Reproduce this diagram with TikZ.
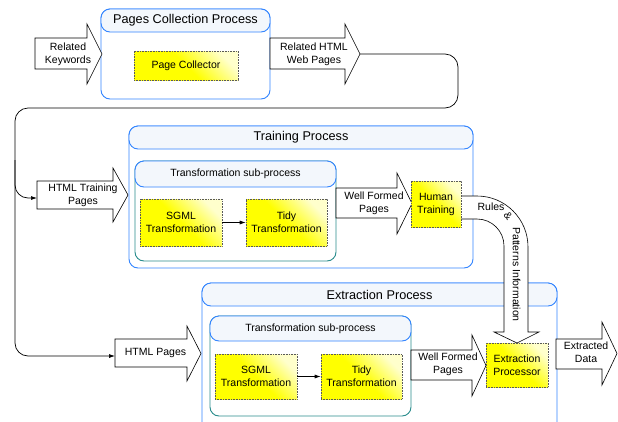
\documentclass[tikz,border=0pt]{standalone}
\usepackage{fontspec}
\setmainfont{Liberation Sans}
\usetikzlibrary{arrows.meta}
\definecolor{pblue}{RGB}{51,133,255}
\definecolor{pteal}{RGB}{40,140,140}
\definecolor{hdrfill}{RGB}{243,247,252}
\newcommand\lblfont{\fontsize{10.5}{13}\selectfont}
\newcommand\ttlfont{\fontsize{12.7}{15}\selectfont}
\tikzset{
  procbox/.style={draw=pblue, line width=0.9pt, rounded corners=9pt, fill=white},
  hdrbox/.style={draw=pblue, line width=0.9pt, rounded corners=9pt, fill=hdrfill},
  subbox/.style={draw=pteal, line width=0.9pt, rounded corners=9pt, fill=white},
  ybox/.style={draw=gray!70!black, densely dotted, line width=0.6pt, shading=axis,
    top color=yellow!20!white, bottom color=yellow, middle color=yellow, shading angle=-45,
    align=center, font=\lblfont, inner sep=0pt},
  blockarr/.style={draw=black, fill=white, line width=0.6pt, line join=miter},
  lbl/.style={font=\lblfont, align=center, inner sep=0pt},
  ttl/.style={font=\ttlfont, inner sep=0pt},
  conn/.style={draw=black, line width=0.7pt, rounded corners=13pt, -{Latex[length=6pt,width=4pt]}},
}
\begin{document}
\begin{tikzpicture}[x=1pt,y=1pt,yscale=-1]
\useasboundingbox (0,0) rectangle (618,421);
\clip (0,0) rectangle (618,421);

% ---------- Pages Collection Process ----------
\draw[procbox] (101,9) rectangle (270,99);
\draw[hdrbox] (101,9) rectangle (270,32);
\node[ttl] (pcp) at (185.5,20.5) {Pages Collection Process};
\node[ybox, minimum width=104pt, minimum height=29pt] (pc) at (186,65.5) {Page Collector};

% Related Keywords arrow
\draw[blockarr] (35,38) -- (87,38) -- (87,24) -- (102,54) -- (87,84) -- (87,69) -- (35,69) -- cycle;
\node[lbl] (rk) at (68,54) {Related\\Keywords};
% Related HTML Web Pages arrow
\draw[blockarr] (270,38) -- (345,38) -- (345,24) -- (360,54) -- (345,84) -- (345,69) -- (270,69) -- cycle;
\node[lbl] (rh) at (314,54) {Related HTML\\Web Pages};
\coordinate (rhtip) at (360,54);

% ---------- Training Process ----------
\draw[procbox] (129,126) rectangle (473,268);
\draw[hdrbox] (129,126) rectangle (473,149);
\node[ttl] (tp) at (301,137.5) {Training Process};
\draw[subbox] (135,161) rectangle (336,261);
\draw[hdrbox] (135,161) rectangle (336,187);
\node[lbl] (tsp1) at (235.5,174) {Transformation sub-process};
\node[ybox, minimum width=82pt, minimum height=47pt] (sg1) at (181,222.5) {SGML\\Transformation};
\node[ybox, minimum width=81pt, minimum height=47pt] (td1) at (286.5,222.5) {Tidy\\Transformation};
\draw[conn] (sg1.east) -- (td1.west);

% HTML Training Pages arrow
\draw[blockarr] (37,181) -- (113,181) -- (113,168) -- (128,195) -- (113,222) -- (113,209) -- (37,209) -- cycle;
\node[lbl] (htp) at (83,195) {HTML Training\\Pages};
\coordinate (htptail) at (37,198);

% Well Formed Pages (training)
\draw[blockarr] (336,188) -- (397,188) -- (397,173) -- (412,203.5) -- (397,234) -- (397,218) -- (336,218) -- cycle;
\node[lbl] (wf1) at (374,203) {Well Formed\\Pages};

% ---------- Extraction Process ----------
\draw[procbox] (202,283) rectangle (557,440);
\draw[hdrbox] (202,283) rectangle (557,306);
\node[ttl] (ep0) at (379.5,294.5) {Extraction Process};
\draw[subbox] (210,316) rectangle (411,416);
\draw[hdrbox] (210,316) rectangle (411,341);
\node[lbl] (tsp2) at (310.5,328.5) {Transformation sub-process};
\node[ybox, minimum width=82pt, minimum height=45pt] (sg2) at (256,376.5) {SGML\\Transformation};
\node[ybox, minimum width=81pt, minimum height=45pt] (td2) at (361.5,376.5) {Tidy\\Transformation};
\draw[conn] (sg2.east) -- (td2.west);

% HTML Pages arrow
\draw[blockarr] (115,339) -- (187,339) -- (187,326) -- (201,353.5) -- (187,381) -- (187,367) -- (115,367) -- cycle;
\node[lbl] (hp) at (155.5,352.5) {HTML Pages};
\coordinate (hptail) at (115,356);

% Well Formed Pages (extraction)
\draw[blockarr] (411,350) -- (472,350) -- (472,335) -- (486,365.5) -- (472,396) -- (472,380) -- (411,380) -- cycle;
\node[lbl] (wf2) at (448,364) {Well Formed\\Pages};

% Extracted Data arrow
\draw[blockarr] (556,339) -- (602,339) -- (602,322) -- (617,353.5) -- (602,385) -- (602,369) -- (556,369) -- cycle;
\node[lbl] (ed) at (586,352.5) {Extracted\\Data};

% Rules & Patterns Information curved arrow
\draw[blockarr] (461,196) -- (477,196) arc[start angle=-90,end angle=0,radius=51]
  -- (528,332) -- (539,332) -- (517,343) -- (494,332) -- (504,332) -- (504,246)
  arc[start angle=0,end angle=-90,radius=27] -- (461,219);
\node[lbl] (rules) at (491,207) {Rules};
\node[lbl, rotate=-50] (amp) at (508,216) {\&};
\node[lbl, rotate=-90] (pinf) at (516.5,274.5) {Patterns Information};

\node[ybox, minimum width=50pt, minimum height=46pt] (ht) at (436,204) {Human\\Training};
\node[ybox, minimum width=62pt, minimum height=44pt] (ep) at (517,365) {Extraction\\Processor};

% ---------- connectors ----------
\draw[conn] (rhtip) -- (458,54) -- (458,108) -- (15,108) -- (15,356) -- (hptail);
\draw[conn] (15,160) -- (15,198) -- (htptail);
\end{tikzpicture}
\end{document}
